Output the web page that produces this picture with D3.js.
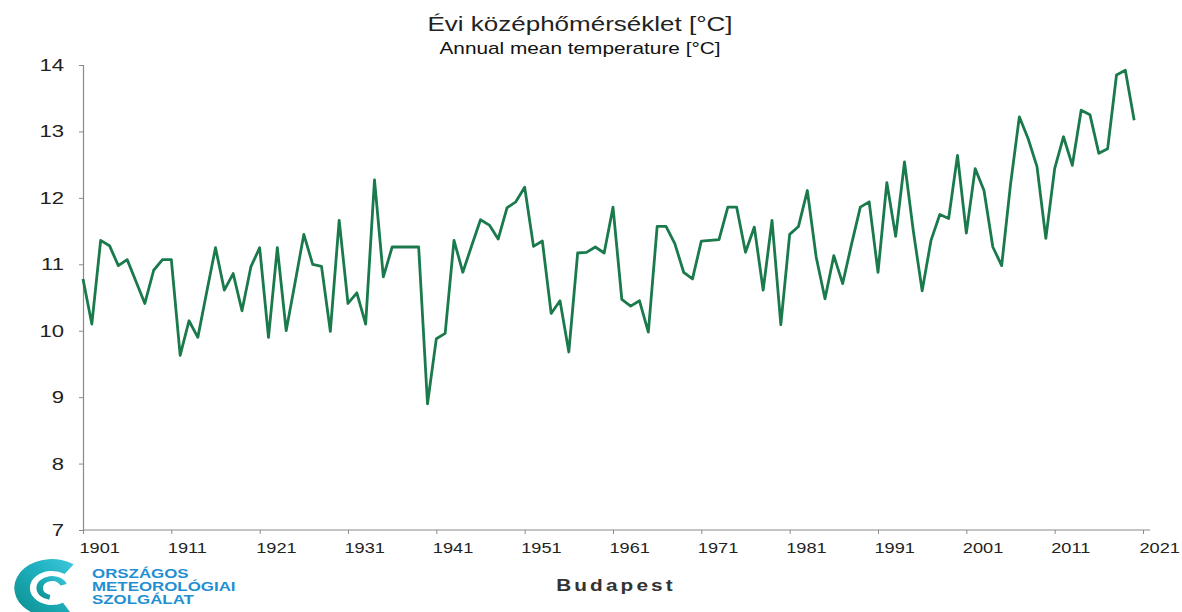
<!DOCTYPE html>
<html>
<head>
<meta charset="utf-8">
<script src="https://cdn.jsdelivr.net/npm/d3@7"></script>
<style>
  body { margin: 0; background: #fff; }
  svg { display: block; }
  text { font-family: "Liberation Sans", Arial, sans-serif; }
</style>
</head>
<body>
<svg id="chart" width="1182" height="612"></svg>
<script>
// evi kozephomerseklet, Budapest, 1901-2020
var years = d3.range(1901, 2021);
var temps = [
  10.78, 10.10, 11.36, 11.28, 10.98, 11.07, 10.74, 10.41, 10.91, 11.07,
  11.07,  9.63, 10.15,  9.90, 10.58, 11.25, 10.61, 10.86, 10.30, 10.96,
  11.25,  9.90, 11.25, 10.00, 10.72, 11.45, 11.00, 10.97,  9.99, 11.66,
  10.41, 10.57, 10.10, 12.27, 10.81, 11.26, 11.26, 11.26, 11.26,  8.90,
   9.88,  9.96, 11.36, 10.88, 11.28, 11.67, 11.59, 11.38, 11.85, 11.94,
  12.16, 11.27, 11.35, 10.26, 10.45,  9.68, 11.17, 11.18, 11.26, 11.17,
  11.86, 10.47, 10.37, 10.45,  9.98, 11.57, 11.57, 11.31, 10.88, 10.78,
  11.35, 11.36, 11.37, 11.86, 11.86, 11.18, 11.56, 10.61, 11.66, 10.09,
  11.45, 11.57, 12.11, 11.11, 10.48, 11.13, 10.71, 11.30, 11.86, 11.94,
  10.88, 12.23, 11.42, 12.54, 11.50, 10.60, 11.36, 11.75, 11.69, 12.64,
  11.47, 12.44, 12.11, 11.26, 10.98, 12.20, 13.22, 12.89, 12.47, 11.39,
  12.44, 12.92, 12.49, 13.32, 13.25, 12.67, 12.74, 13.85, 13.92, 13.17
];
var xTicks = d3.range(1901, 2031, 10);   // 1901 ... 2021
var yTicks = [7, 8, 9, 10, 11, 12, 13, 14];

var titleHu = "Évi középhőmérséklet [°C]";
var titleEn = "Annual mean temperature [°C]";
var station = "Budapest";
var logoLines = ["ORSZÁGOS", "METEOROLÓGIAI", "SZOLGÁLAT"];

var SX = 1.3; // the scan is stretched sideways, text too

var svg = d3.select("#chart");

var x = d3.scaleLinear().domain([1901, 2021]).range([83, 1143]);
var y = d3.scaleLinear().domain([7, 14]).range([530, 65]);

// y tengely
var gy = svg.append("g")
    .attr("transform", "translate(83,0)")
    .call(d3.axisLeft(y).tickValues(yTicks).tickSize(4).tickFormat(d3.format("d")));
gy.select(".domain").attr("stroke", "#8a8a8a").attr("stroke-width", 1.2);
gy.selectAll(".tick line").attr("stroke", "#8a8a8a");
gy.selectAll(".tick text")
    .attr("x", -19 / SX)
    .attr("transform", "scale(" + SX + ",1)")
    .attr("fill", "#222")
    .style("font-size", "17px");

// x tengely
var gx = svg.append("g")
    .attr("transform", "translate(0,530)")
    .call(d3.axisBottom(x).tickValues(xTicks).tickSize(4).tickSizeOuter(0).tickFormat(d3.format("d")));
gx.select(".domain").attr("stroke", "#8a8a8a").attr("stroke-width", 1.2)
    .attr("d", "M83,0H1150");
gx.selectAll(".tick line").attr("stroke", "#8a8a8a");
gx.selectAll(".tick text")
    .attr("text-anchor", "start")
    .attr("x", -4 / SX)
    .attr("y", 23)
    .attr("dy", 0)
    .attr("transform", "scale(" + SX + ",1)")
    .attr("fill", "#222")
    .style("font-size", "14px");

// vonal
var line = d3.line()
    .x(function(d, i) { return x(years[i]); })
    .y(function(d) { return y(d); });

svg.append("path")
    .datum(temps)
    .attr("fill", "none")
    .attr("stroke", "#1a7a4c")
    .attr("stroke-width", 2.8)
    .attr("stroke-linejoin", "round")
    .attr("d", line);

// cimek
function stretchedText(tx, ty, str, size, weight, color, anchor) {
  var g = svg.append("g").attr("transform", "translate(" + tx + "," + ty + ") scale(" + SX + ",1)");
  return g.append("text")
      .attr("text-anchor", anchor || "middle")
      .style("font-size", size + "px")
      .style("font-weight", weight || "normal")
      .attr("fill", color)
      .text(str);
}

stretchedText(580, 31, titleHu, 20, "normal", "#222");
stretchedText(580, 54, titleEn, 16, "normal", "#111");
stretchedText(616, 591, station, 16, "bold", "#333").style("letter-spacing", "2.4px");

// OMSZ logo
var defs = svg.append("defs");
var grad = defs.append("linearGradient").attr("id", "swirl")
    .attr("x1", "0").attr("y1", "1").attr("x2", "1").attr("y2", "0");
grad.append("stop").attr("offset", "0%").attr("stop-color", "#0b8d8a");
grad.append("stop").attr("offset", "60%").attr("stop-color", "#1fb0c0");
grad.append("stop").attr("offset", "100%").attr("stop-color", "#3fc8dc");

var logo = svg.append("g").attr("transform", "translate(52,588) scale(1.3,1)");
var deg = Math.PI / 180;
var arc = d3.arc();
logo.append("path")
    .attr("fill", "url(#swirl)")
    .attr("d", arc({innerRadius: 17, outerRadius: 29, startAngle: 150 * deg, endAngle: 395 * deg}));
logo.append("path")
    .attr("fill", "url(#swirl)")
    .attr("d", arc({innerRadius: 7, outerRadius: 12, startAngle: 190 * deg, endAngle: 430 * deg}));

logoLines.forEach(function(s, i) {
  stretchedText(92, 578 + i * 13, s, 13, "bold", "#1f8fd2", "start");
});
</script>
</body>
</html>
